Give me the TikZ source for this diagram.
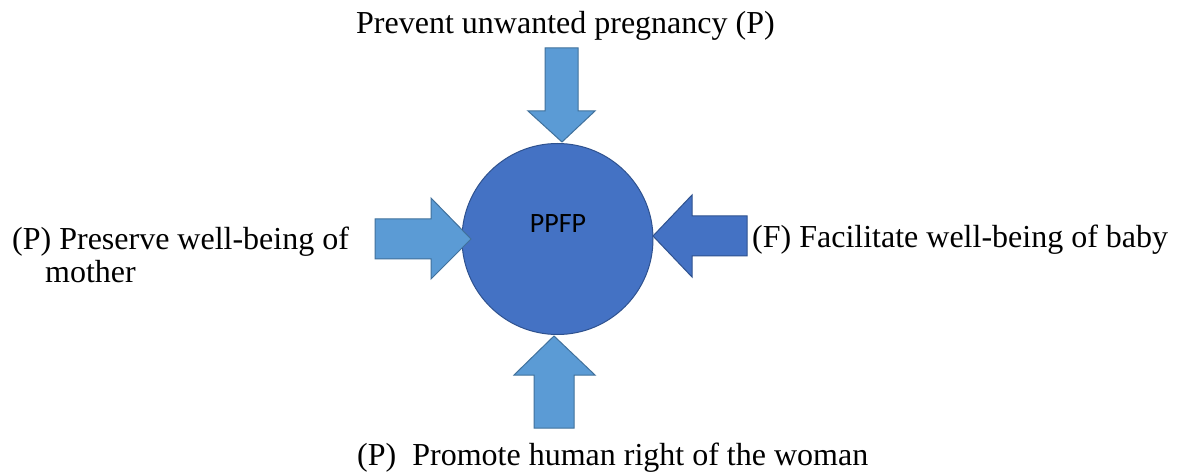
\documentclass[tikz,border=0pt]{standalone}
\usepackage{fontspec}
\setmainfont{Liberation Serif}
\newfontfamily\hubfont{Carlito}
\begin{document}
\begin{tikzpicture}[x=1pt,y=-1pt,
  lightarrow/.style={fill={rgb,255:red,91;green,155;blue,213},draw={rgb,255:red,65;green,113;blue,156},line width=1pt,line join=miter},
  darkarrow/.style={fill={rgb,255:red,68;green,114;blue,196},draw={rgb,255:red,47;green,82;blue,143},line width=1pt,line join=miter},
  hub/.style={circle,minimum size=191pt,inner sep=0pt,fill={rgb,255:red,68;green,114;blue,196},draw={rgb,255:red,47;green,82;blue,143},line width=1pt},
  lbl/.style={inner sep=0pt,font=\fontsize{32}{35}\selectfont}]
\useasboundingbox (0,0) rectangle (1179,473);
\fill[white] (0,0) rectangle (1179,473);

% central circle
\node[hub] (ppfp) at (557.5,239) {};
\node[inner sep=0pt,anchor=base,font=\hubfont\fontsize{28}{30}\selectfont] (ppfplbl) at (558,233) {PPFP};

% block arrows pointing at the circle
\draw[lightarrow] (545,48) -- (578,48) -- (578,111) -- (595,111) -- (562,142) -- (528,111) -- (545,111) -- cycle;
\draw[lightarrow] (375,219) -- (431,219) -- (431,198) -- (471,239) -- (431,279) -- (431,259) -- (375,259) -- cycle;
\draw[darkarrow] (747,216) -- (692,216) -- (692,195) -- (653,236) -- (692,277) -- (692,256) -- (747,256) -- cycle;
\draw[lightarrow] (534,428) -- (534,375) -- (514,375) -- (554,336) -- (595,375) -- (574,375) -- (574,428) -- cycle;

% labels
\node[lbl,anchor=base west] (top) at (356,34) {Prevent unwanted pregnancy (P)};
\node[lbl,anchor=base west] (left1) at (12,250) {(P) Preserve well-being of};
\node[lbl,anchor=base west] (left2) at (45,283) {mother};
\node[lbl,anchor=base west] (right) at (752,248) {(F) Facilitate well-being of baby};
\node[lbl,anchor=base west] (bottom) at (357,465) {(P)\hspace{16pt}Promote human right of the woman};
\end{tikzpicture}
\end{document}
